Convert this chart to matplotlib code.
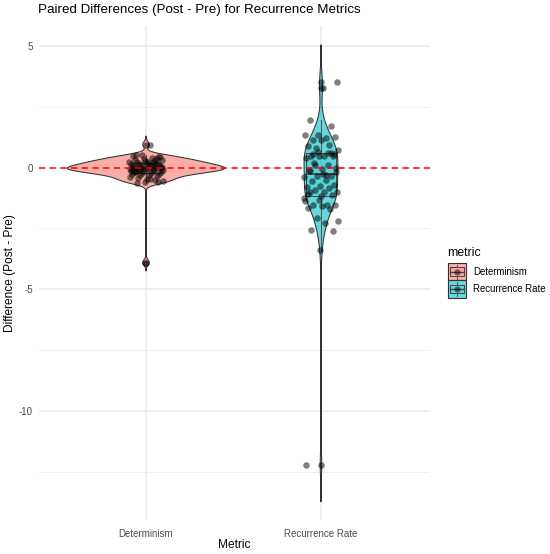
import numpy as np
import matplotlib
matplotlib.use("Agg")
import matplotlib.pyplot as plt
from matplotlib.patches import Rectangle, Polygon
from matplotlib.lines import Line2D

plt.rcParams['font.family'] = ['Liberation Sans', 'DejaVu Sans']

# ---------------- data ----------------
categories = ["Determinism", "Recurrence Rate"]
colors = ["#F8766D", "#00BFC4"]

determinism = [
    0.95, -0.65, -0.60, -3.90,
    0.00, 0.01, -0.01, 0.02, -0.02, 0.03, -0.03, 0.04, -0.05, 0.05,
    -0.06, 0.07, -0.07, 0.08, -0.09, 0.10, -0.10, 0.11, -0.12, 0.13,
    -0.13, 0.15, -0.15, 0.16, -0.17, 0.18, -0.19, 0.20, -0.21, 0.22,
    -0.23, 0.24, -0.25, 0.26, -0.27, 0.28, -0.29, 0.30, -0.31, 0.33,
    -0.34, 0.36, -0.37, 0.40, -0.41, 0.44, -0.45, 0.48, -0.50, 0.50,
    -0.55, -0.48, 0.52, 0.42, -0.58, -0.14, 0.19, -0.11, 0.00, 0.25,
    -0.18, 0.34,
]

recurrence_rate = [
    3.51, 3.28, 1.96, 1.70, 1.36, 1.36, 1.22, 1.15, 1.26, 1.15,
    0.90, 0.95, 0.81, 0.74, 0.49, 0.49, 0.49, 0.49, 0.40, 0.12,
    0.20, 0.00, -0.04, -0.11, -0.36, -0.36, -0.40, -0.49, -0.56, -0.70,
    -0.77, -0.80, -0.84, -0.93, -1.00, -1.02, -1.00, -1.14, -1.32, -1.39,
    -1.52, -1.52, -1.52, -1.59, -1.65, -1.70, -2.07, -2.20, -2.28, -2.55,
    -2.59, -3.40, -12.20, 0.62, 0.10, -0.20, -0.25, -0.15, 0.60, 0.65,
    -1.25, -0.30, 0.58, 0.55, -1.18, -1.10,
]

series = [np.array(determinism), np.array(recurrence_rate)]

title = "Paired Differences (Post - Pre) for Recurrence Metrics"
xlabel = "Metric"
ylabel = "Difference (Post - Pre)"
legend_title = "metric"

# ---------------- figure ----------------
W, H = 550, 554
fig = plt.figure(figsize=(W / 100, H / 100), dpi=100)
fig.patch.set_facecolor("white")


def fx(px):
    return px / W


def fy(py):
    return 1 - py / H


ax = fig.add_axes([fx(39), fy(520), fx(430) - fx(39), fy(26) - fy(520)])
ax.set_facecolor("white")
ax.set_xlim(0.3886, 2.623)
ax.set_ylim(-14.48, 5.82)

# grid
for v in [-12.5, -7.5, -2.5, 2.5]:
    ax.axhline(v, color="#EBEBEB", lw=0.55, zorder=0)
for v in [-10, -5, 0, 5]:
    ax.axhline(v, color="#EBEBEB", lw=1.1, zorder=0)
for v in [1, 2]:
    ax.axvline(v, color="#EBEBEB", lw=1.1, zorder=0)


def nrd0(x):
    x = np.asarray(x, float)
    sd = np.std(x, ddof=1)
    q75, q25 = np.percentile(x, [75, 25])
    lo = min(sd, (q75 - q25) / 1.34)
    if lo <= 0:
        lo = sd
    return 0.9 * lo * len(x) ** (-0.2)


# KDE for violins (trim = FALSE, cut = 3)
kdes = []
for d in series:
    bw = nrd0(d)
    grid = np.linspace(d.min() - 3 * bw, d.max() + 3 * bw, 512)
    dens = np.exp(-0.5 * ((grid[:, None] - d[None, :]) / bw) ** 2).sum(1)
    dens /= (len(d) * bw * np.sqrt(2 * np.pi))
    kdes.append((grid, dens))
maxd = max(k[1].max() for k in kdes)

edge = "#333333"
for i, ((grid, dens), col) in enumerate(zip(kdes, colors)):
    pos = i + 1
    hw = 0.45 * dens / maxd
    xs = np.concatenate([pos - hw, (pos + hw)[::-1]])
    ys = np.concatenate([grid, grid[::-1]])
    ax.add_patch(Polygon(np.column_stack([xs, ys]), closed=True,
                         facecolor=col, alpha=0.6, edgecolor="none", zorder=2))
    ax.add_patch(Polygon(np.column_stack([xs, ys]), closed=True,
                         facecolor="none", edgecolor=edge, lw=0.75, zorder=2.1))

# boxplots
bw_box = 0.17
for i, (d, col) in enumerate(zip(series, colors)):
    pos = i + 1
    q1, med, q3 = np.percentile(d, [25, 50, 75])
    iqr = q3 - q1
    upper = d[d <= q3 + 1.5 * iqr].max()
    lower = d[d >= q1 - 1.5 * iqr].min()
    outl = d[(d > q3 + 1.5 * iqr) | (d < q1 - 1.5 * iqr)]
    ax.add_patch(Rectangle((pos - bw_box / 2, q1), bw_box, q3 - q1,
                           facecolor=col, alpha=0.12, edgecolor="none", zorder=3))
    ax.add_patch(Rectangle((pos - bw_box / 2, q1), bw_box, q3 - q1,
                           facecolor="none", edgecolor="#444444", lw=0.7, zorder=3.1))
    ax.plot([pos - bw_box / 2, pos + bw_box / 2], [med, med], color="#444444", lw=1.2, zorder=3.2)
    ax.plot([pos, pos], [q3, upper], color="#555555", lw=0.7, zorder=3.1)
    ax.plot([pos, pos], [q1, lower], color="#555555", lw=0.7, zorder=3.1)
    ax.scatter(np.full(len(outl), pos), outl, s=22, color="black", alpha=0.5,
               linewidths=0, zorder=3.3)

# jittered points (deterministic low-discrepancy jitter, width 0.1)
for i, d in enumerate(series):
    pos = i + 1
    k = np.arange(len(d)) + 1 + 7 * i
    offs = ((k * 0.6180339887) % 1.0 * 2 - 1) * 0.1
    ax.scatter(pos + offs, d, s=22, color="black", alpha=0.5, linewidths=0, zorder=4)

# reference line
ax.axhline(0, color="red", lw=1.1, ls=(0, (4, 3)), zorder=5)

# axes styling
for s in ax.spines.values():
    s.set_visible(False)
ax.set_xticks([1, 2])
ax.set_xticklabels(categories)
ax.set_yticks([-10, -5, 0, 5])
ax.set_yticklabels(["-10", "-5", "0", "5"])
ax.tick_params(length=0, labelsize=7.0, labelcolor="#4D4D4D")
ax.tick_params(axis="x", pad=6.5)
ax.tick_params(axis="y", pad=4.3)

fig.text(fx(38), fy(10.5), title, fontsize=9.6, ha="left", va="center", color="black")
fig.text(fx(234), fy(545), xlabel, fontsize=8.6, ha="center", va="center", color="black")
fig.text(fx(10), fy(273), ylabel, fontsize=8.6, ha="center", va="center",
         rotation=90, color="black")

# legend (drawn manually, ggplot style)
fig.text(fx(447), fy(253), legend_title, fontsize=8.8, ha="left", va="center")
key_x, key_w, key_h = 447.5, 18.5, 17.3
key_tops = [263.0, 280.3]
for top, col, lab in zip(key_tops, colors, categories):
    # violin key
    fig.add_artist(Rectangle((fx(key_x), fy(top + key_h)), key_w / W, key_h / H,
                             transform=fig.transFigure, facecolor=col, alpha=0.6,
                             edgecolor="none"))
    fig.add_artist(Rectangle((fx(key_x), fy(top + key_h)), key_w / W, key_h / H,
                             transform=fig.transFigure, facecolor="none",
                             edgecolor=edge, lw=0.8))
    # boxplot key
    bx0 = key_x + key_w * 0.125
    bx1 = key_x + key_w * 0.875
    by0 = top + key_h * 0.25
    by1 = top + key_h * 0.75
    fig.add_artist(Rectangle((fx(bx0), fy(by1)), (bx1 - bx0) / W, (by1 - by0) / H,
                             transform=fig.transFigure, facecolor=col, alpha=0.12,
                             edgecolor="none"))
    fig.add_artist(Rectangle((fx(bx0), fy(by1)), (bx1 - bx0) / W, (by1 - by0) / H,
                             transform=fig.transFigure, facecolor="none",
                             edgecolor="#444444", lw=0.7))
    cx = key_x + key_w / 2
    cy = top + key_h / 2
    fig.add_artist(Line2D([fx(bx0), fx(bx1)], [fy(cy), fy(cy)],
                          transform=fig.transFigure, color="#444444", lw=1.0))
    fig.add_artist(Line2D([fx(cx), fx(cx)], [fy(top + key_h * 0.1), fy(by0)],
                          transform=fig.transFigure, color="#555555", lw=0.7))
    fig.add_artist(Line2D([fx(cx), fx(cx)], [fy(by1), fy(top + key_h * 0.9)],
                          transform=fig.transFigure, color="#555555", lw=0.7))
    # point key
    fig.add_artist(Line2D([fx(cx)], [fy(cy)], transform=fig.transFigure,
                          marker="o", ms=4.5, color="black", alpha=0.5, lw=0,
                          markeredgewidth=0))
    fig.text(fx(473), fy(cy), lab, fontsize=6.9, ha="left", va="center", color="black")

fig.savefig("out.png", dpi=100, facecolor="white")
